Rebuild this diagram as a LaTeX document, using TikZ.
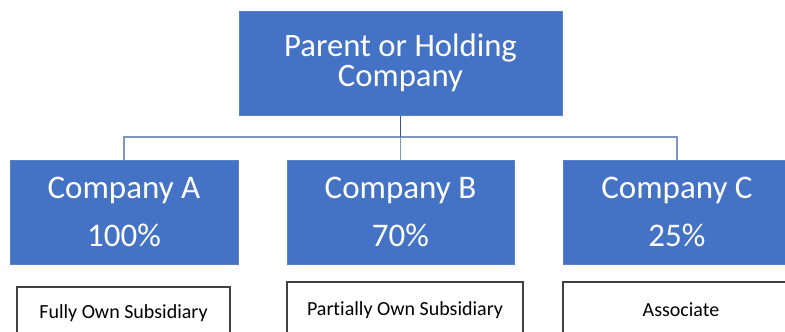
\documentclass[tikz,border=0pt]{standalone}
\usepackage{fontspec}
\setmainfont[Ligatures=NoCommon]{Carlito}
\definecolor{boxblue}{HTML}{4472C4}
\definecolor{boxedge}{HTML}{5B80C6}
\definecolor{connline}{HTML}{7D96C2}
\definecolor{stemline}{HTML}{2F5597}
\definecolor{greyedge}{HTML}{404040}
\tikzset{
  bluebox/.style={rectangle, fill=boxblue, draw=boxedge, line width=1pt, text=white, align=center, inner sep=0pt},
  labelbox/.style={rectangle, fill=white, draw=greyedge, line width=1.1pt, text=black, align=center, inner sep=0pt, font=\fontsize{20}{22}\selectfont},
  conn/.style={draw=connline, line width=1.3pt},
}
\begin{document}
\begin{tikzpicture}[x=1pt,y=-1pt]
\useasboundingbox (0,0) rectangle (785,332);
\clip (0,0) rectangle (785,332);
\fill[white] (0,0) rectangle (785,332);
\node[bluebox, minimum width=323pt, minimum height=104pt, font=\fontsize{32.7}{30}\selectfont] (P) at (400.5,63) {Parent or Holding\\Company};
\node[bluebox, minimum width=228pt, minimum height=104pt, font=\fontsize{33}{48}\selectfont] (A) at (124,212) {Company A\\100\%};
\node[bluebox, minimum width=227pt, minimum height=104pt, font=\fontsize{33}{48}\selectfont] (B) at (400.5,212) {Company B\\70\%};
\node[bluebox, minimum width=228pt, minimum height=104pt, font=\fontsize{33}{48}\selectfont] (C) at (677,212) {Company C\\25\%};
\node[labelbox, minimum width=213pt, minimum height=53pt] (FA) at (123.5,313.5) {Fully Own Subsidiary};
\node[labelbox, minimum width=236pt, minimum height=56pt] (FB) at (405,310) {Partially Own Subsidiary};
\node[labelbox, minimum width=236pt, minimum height=56pt] (FC) at (681,310) {Associate};
\coordinate (J) at (400.5,137);
\draw[conn] (A.north) |- (J) -| (C.north);
\draw[conn] (J) -- (B.north);
\draw[draw=stemline, line width=1.3pt] (P.south) -- (J);
\end{tikzpicture}
\end{document}
